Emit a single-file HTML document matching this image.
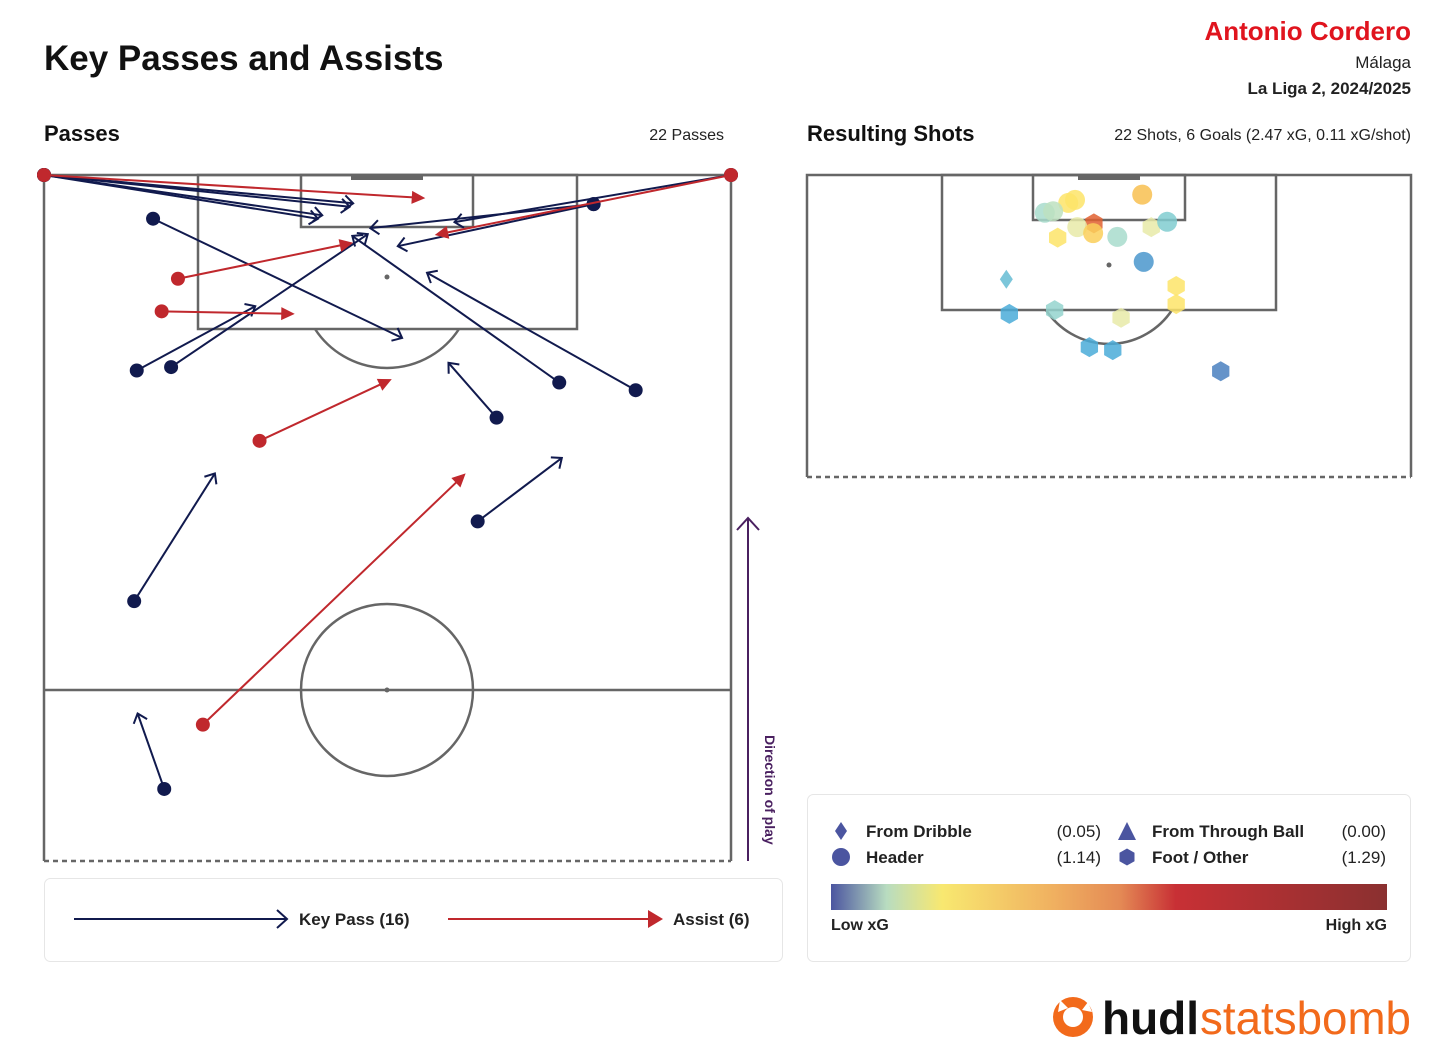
<!DOCTYPE html>
<html><head><meta charset="utf-8">
<style>
body{margin:0;background:#fff;font-family:"Liberation Sans",sans-serif;}
svg{display:block}
</style></head>
<body>
<svg id="chart" width="1456" height="1057" viewBox="0 0 1456 1057" xmlns="http://www.w3.org/2000/svg">
<text x="44" y="70" font-size="35" font-weight="bold" fill="#111">Key Passes and Assists</text>
<text x="1411" y="40" font-size="26" font-weight="bold" fill="#e0141e" text-anchor="end">Antonio Cordero</text>
<text x="1411" y="68" font-size="17" fill="#222" text-anchor="end">Málaga</text>
<text x="1411" y="94" font-size="17" fill="#222" font-weight="bold" text-anchor="end">La Liga 2, 2024/2025</text>
<text x="44" y="141" font-size="22" font-weight="bold" fill="#111">Passes</text>
<text x="724" y="140" font-size="16" fill="#222" text-anchor="end">22 Passes</text>
<text x="807" y="141" font-size="22" font-weight="bold" fill="#111">Resulting Shots</text>
<text x="1411" y="140" font-size="16" fill="#222" text-anchor="end">22 Shots, 6 Goals (2.47 xG, 0.11 xG/shot)</text>

<g id="passPitch" fill="none" stroke="#666" stroke-width="2.5">
<path d="M44,861 L44,175 L731,175 L731,861"/>
<line x1="44" y1="861" x2="731" y2="861" stroke-dasharray="5,4"/>
<line x1="44" y1="690" x2="731" y2="690"/>
<circle cx="387" cy="690" r="86"/>
<rect x="198" y="175" width="379" height="154"/>
<rect x="301" y="175" width="172" height="52"/>
<path d="M315,329 A86,86 0 0 0 459,329"/>
<rect x="351" y="174" width="72" height="6" fill="#666" stroke="none"/>
<circle cx="387" cy="277" r="2.5" fill="#666" stroke="none"/>
<circle cx="387" cy="690" r="2.5" fill="#666" stroke="none"/>
</g>
<g id="passes"></g>

<g stroke="#4a2060" stroke-width="2" fill="none">
<line x1="748" y1="861" x2="748" y2="519"/>
<path d="M737,530 L748,518 L759,530"/>
</g>
<text transform="translate(765,735) rotate(90)" font-size="14" font-weight="bold" fill="#4a2060">Direction of play</text>

<g id="shotPitch" fill="none" stroke="#666" stroke-width="2.5">
<path d="M807,477 L807,175 L1411,175 L1411,477"/>
<line x1="807" y1="477" x2="1411" y2="477" stroke-dasharray="5,4"/>
<rect x="942" y="175" width="334" height="135"/>
<rect x="1033" y="175" width="152" height="45"/>
<path d="M1046,310 A75.5,75.5 0 0 0 1172,310"/>
<rect x="1078" y="174" width="62" height="6" fill="#666" stroke="none"/>
<circle cx="1109" cy="265" r="2.5" fill="#666" stroke="none"/>
</g>
<g id="shots"></g>

<rect x="44.5" y="878.5" width="738" height="83" rx="6" fill="#fff" stroke="#e6e6e6"/>
<g>
<line x1="74" y1="919" x2="286" y2="919" stroke="#111a4e" stroke-width="2"/>
<path d="M277,910 L287,919 L277,928" fill="none" stroke="#111a4e" stroke-width="2"/>
<text x="299" y="925" font-size="17" font-weight="bold" fill="#222">Key Pass (16)</text>
</g>
<g>
<line x1="448" y1="919" x2="650" y2="919" stroke="#c0282d" stroke-width="2"/>
<path d="M648,910 L663,919 L648,928 Z" fill="#c0282d"/>
<text x="673" y="925" font-size="17" font-weight="bold" fill="#222">Assist (6)</text>
</g>

<rect x="807.5" y="794.5" width="603" height="167" rx="6" fill="#fff" stroke="#e6e6e6"/>
<g font-size="17" fill="#222">
<path d="M841,822 L847,831 L841,840 L835,831 Z" fill="#4b55a0"/>
<text x="866" y="837" font-weight="bold">From Dribble</text>
<text x="1101" y="837" text-anchor="end">(0.05)</text>
<path d="M1127,822 L1136,840 L1118,840 Z" fill="#4b55a0"/>
<text x="1152" y="837" font-weight="bold">From Through Ball</text>
<text x="1386" y="837" text-anchor="end">(0.00)</text>
<circle cx="841" cy="857" r="9" fill="#4b55a0"/>
<text x="866" y="863" font-weight="bold">Header</text>
<text x="1101" y="863" text-anchor="end">(1.14)</text>
<path d="M1127,848.5 L1134.5,852.8 L1134.5,861.2 L1127,865.5 L1119.5,861.2 L1119.5,852.8 Z" fill="#4b55a0"/>
<text x="1152" y="863" font-weight="bold">Foot / Other</text>
<text x="1386" y="863" text-anchor="end">(1.29)</text>
</g>
<defs><linearGradient id="xg" x1="0" x2="1">
<stop offset="0" stop-color="#4b55a0"/><stop offset="0.1" stop-color="#b8dcc0"/><stop offset="0.2" stop-color="#f8e870"/><stop offset="0.4" stop-color="#f0b060"/><stop offset="0.52" stop-color="#e48a55"/><stop offset="0.62" stop-color="#c83035"/><stop offset="1" stop-color="#8a3030"/>
</linearGradient></defs>
<rect x="831" y="884" width="556" height="26" fill="url(#xg)"/>
<text x="831" y="930" font-size="16" font-weight="bold" fill="#222">Low xG</text>
<text x="1387" y="930" font-size="16" font-weight="bold" fill="#222" text-anchor="end">High xG</text>

<g>
<circle cx="1073" cy="1017" r="20" fill="#f26a1b"/>
<circle cx="1073" cy="1017" r="10" fill="#fff"/>
<path d="M1060,1000 L1068,1008 L1058,1012 Z M1088,1002 L1082,1010 L1092,1012 Z" fill="#fff"/>
<text x="1102" y="1034" font-size="46" font-weight="bold" fill="#111" textLength="97" lengthAdjust="spacingAndGlyphs">hudl</text>
<text x="1200" y="1034" font-size="46" fill="#f26a1b" textLength="211" lengthAdjust="spacingAndGlyphs">statsbomb</text>
</g>
</svg>
<script>
// Passes: start width, start depth, end width, end depth (yards, 80x80 view)
const keyStartW=[0,0,0,0,64.0,64.0,80,12.7,10.8,14.8,60.0,68.9,52.7,50.5,10.5,14.0];
const keyStartD=[0,0,0,0,3.4,3.4,0,5.1,22.8,22.4,24.2,25.1,28.3,40.4,49.7,71.6];
const keyEndW=[31.9,32.4,35.6,36.0,38.0,41.2,47.8,41.7,24.6,37.7,35.9,44.6,47.1,60.3,19.9,10.9];
const keyEndD=[5.1,4.7,3.7,3.3,6.2,8.3,5.5,19.0,15.3,6.9,7.1,11.4,21.9,33.0,34.8,62.8];
const astStartW=[0,80,15.6,13.7,25.1,18.5];
const astStartD=[0,0,12.1,15.9,31.0,64.1];
const astEndW=[44.4,45.5,36.0,29.2,40.5,49.1];
const astEndD=[2.7,7.0,7.9,16.2,23.8,34.8];
// Shots
const shotW=[44.4,35.5,34.6,31.5,32.6,38.0,35.8,37.9,41.1,33.2,45.6,47.7,44.6,26.4,48.9,48.9,26.8,32.8,41.6,37.4,40.5,54.8];
const shotD=[2.6,3.3,3.7,5.0,4.8,6.4,6.9,7.7,8.2,8.3,6.9,6.2,11.5,13.8,14.7,17.1,18.4,17.9,18.9,22.8,23.2,26.0];
const shotType=['header','header','header','header','header','foot','header','header','header','foot','foot','header','header','dribble','foot','foot','foot','foot','foot','foot','foot','foot'];
const shotXG=[0.2,0.13,0.13,0.07,0.08,0.4,0.1,0.17,0.07,0.13,0.1,0.05,0.025,0.04,0.13,0.13,0.03,0.06,0.1,0.03,0.03,0.02];

const NS='http://www.w3.org/2000/svg';
function mk(t,a){const e=document.createElementNS(NS,t);for(const k in a)e.setAttribute(k,a[k]);return e;}
const px=w=>44+w*687/80, py=d=>175+d*686/80;
const sx=w=>807+w*604/80, sy=d=>175+d*302/40;
const gp=document.getElementById('passes');
function drawPass(x1,y1,x2,y2,col,filled){
  const g=mk('g',{});
  
  
  const a=Math.atan2(y2-y1,x2-x1),L=filled?15:11,s=filled?0.45:0.7;
  const bx=x2-L*Math.cos(a-s),by=y2-L*Math.sin(a-s),cx=x2-L*Math.cos(a+s),cy=y2-L*Math.sin(a+s);
  const ex=filled?x2-12*Math.cos(a):x2, ey=filled?y2-12*Math.sin(a):y2;
  g.appendChild(mk('line',{x1,y1,x2:ex,y2:ey,stroke:col,'stroke-width':2}));
  if(filled) g.appendChild(mk('path',{d:`M${bx},${by}L${x2},${y2}L${cx},${cy}Z`,fill:col}));
  else g.appendChild(mk('path',{d:`M${bx},${by}L${x2},${y2}L${cx},${cy}`,fill:'none',stroke:col,'stroke-width':2}));
  g.appendChild(mk('circle',{cx:x1,cy:y1,r:7,fill:col}));
  gp.appendChild(g);
}
for(let i=0;i<keyStartW.length;i++)drawPass(px(keyStartW[i]),py(keyStartD[i]),px(keyEndW[i]),py(keyEndD[i]),'#111a4e',false);
for(let i=0;i<astStartW.length;i++)drawPass(px(astStartW[i]),py(astStartD[i]),px(astEndW[i]),py(astEndD[i]),'#c0282d',true);

const stops=[[0,[75,85,160]],[0.02,[74,128,192]],[0.03,[74,172,216]],[0.05,[128,204,208]],[0.07,[168,220,204]],[0.1,[232,234,168]],[0.13,[253,228,104]],[0.2,[248,192,80]],[0.4,[224,96,48]],[0.6,[200,48,53]],[1,[138,48,48]]];
function cmap(v){for(let i=1;i<stops.length;i++){if(v<=stops[i][0]){const[a,ca]=stops[i-1],[b,cb]=stops[i],t=(v-a)/(b-a);return 'rgb('+ca.map((c,j)=>Math.round(c+(cb[j]-c)*t)).join(',')+')';}}return 'rgb(138,48,48)';}
const gs=document.getElementById('shots');
for(let i=0;i<shotW.length;i++){
  const x=sx(shotW[i]),y=sy(shotD[i]),c=cmap(shotXG[i]);let e;
  if(shotType[i]==='header')e=mk('circle',{cx:x,cy:y,r:10});
  else if(shotType[i]==='dribble')e=mk('path',{d:`M${x},${y-9.5}L${x+6.5},${y}L${x},${y+9.5}L${x-6.5},${y}Z`});
  else{let d='';for(let k=0;k<6;k++){const an=Math.PI/6+k*Math.PI/3;d+=(k?'L':'M')+(x+10*Math.cos(an))+','+(y+10*Math.sin(an));}e=mk('path',{d:d+'Z'});}
  e.setAttribute('fill',c);e.setAttribute('fill-opacity','0.85');
  
  
  gs.appendChild(e);
}
</script>
</body></html>
